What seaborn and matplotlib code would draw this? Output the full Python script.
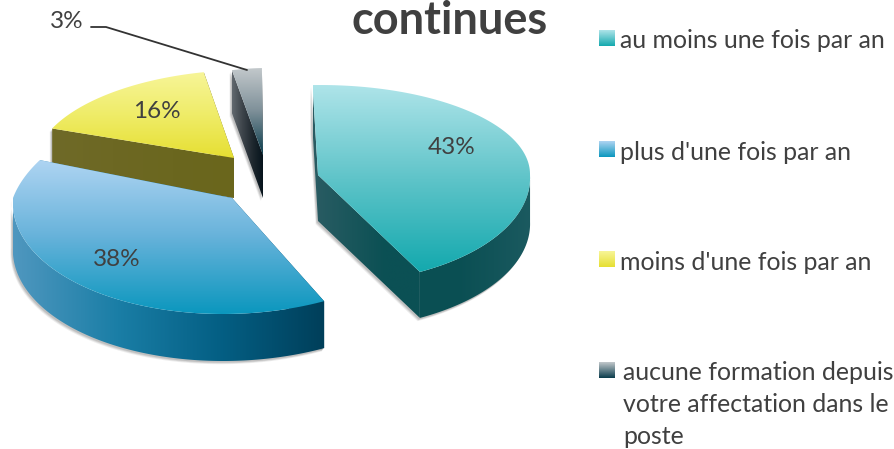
import numpy as np
import matplotlib
matplotlib.use("Agg")
import matplotlib.pyplot as plt
from matplotlib.patches import Polygon
import seaborn as sns

# Data
categories = ["au moins une fois par an", "plus d'une fois par an",
              "moins d'une fois par an",
              "aucune formation depuis\nvotre affectation dans le\nposte"]
values = [43, 38, 16, 3]
title = "continues"

# Slice geometry in pixels: apex x, apex y, rx, ry back, ry front, shear back, shear front, depth
slice_geom = [
    (318, 175, 212, 90, 109, 2, -5.6, 46),
    (232, 198, 219, 113, 116, 42, 9, 47),
    (234, 158, 198, 88, 88, 14, 14, 40),
    (263, 155, 160, 87, 87, 4.5, 4.5, 43),
]
label_pos = [(452, 148), (117, 260), (157, 112), (67, 21)]
legend_y = [38, 149, 259, 370]
legend_text_pos = [(620, 41), (620, 152), (620, 263), (623, 373)]

# Gradient stops: top surface (top to bottom), wall (left to right)
top_colors = [["#aee4e9", "#5fc4c9", "#14a9ae"],
              ["#aed4f2", "#66b2da", "#0b97be"],
              ["#f7f598", "#efec68", "#e6df32"],
              ["#c2c8cb", "#7d8f98", "#0a3c4c"]]
wall_colors = [["#2a5c63", "#0b5054", "#0a4f53", "#1b5a60"],
               ["#4f97bf", "#1a7ea6", "#045f84", "#003f5a"],
               ["#6f6a28", "#6c6720", "#6a661c"],
               ["#62696f", "#2a3238", "#04121a"]]
draw_order = [3, 2, 0, 1]
text_color = "#404040"

sns.set_theme(style="white")
plt.rcParams["font.family"] = ["Lato", "DejaVu Sans"]

fig = plt.figure(figsize=(8.95, 4.49), dpi=100)

# Slice angles come from a normal pie, drawn on a hidden helper axes
helper = fig.add_axes([0, 0, 0.1, 0.1])
wedges, _ = helper.pie(values, startangle=92, counterclock=False)
helper.set_visible(False)

ax = fig.add_axes([0, 0, 1, 1])
ax.set_xlim(0, 895)
ax.set_ylim(449, 0)
ax.axis("off")
ax.autoscale(False)


def project(geom, theta):
    ax_, ay, rx, ry_b, ry_f, sh_b, sh_f, _ = geom
    c, s = np.cos(theta), np.sin(theta)
    ry = np.where(s > 0, ry_b, ry_f)
    sh = np.where(s > 0, sh_b, sh_f)
    return np.column_stack([ax_ + rx * c + sh * s, ay - ry * s])


def fill_gradient(pts, colors, vertical, zorder):
    # imshow clipped to a polygon, that gives the glossy office look
    cmap = sns.blend_palette(colors, as_cmap=True)
    x0, y0 = pts.min(axis=0)
    x1, y1 = pts.max(axis=0)
    ramp = np.linspace(0, 1, 128)
    grad = ramp[:, None] if vertical else ramp[None, :]
    im = ax.imshow(grad, cmap=cmap, extent=(x0, x1, y1, y0), origin="upper",
                   aspect="auto", zorder=zorder, interpolation="bilinear")
    clip = Polygon(pts, closed=True, fc="none", ec="none", transform=ax.transData)
    ax.add_patch(clip)
    im.set_clip_path(clip)
    ax.set_xlim(0, 895)
    ax.set_ylim(449, 0)


z = 2
for i in draw_order:
    geom = slice_geom[i]
    depth = geom[7]
    t1, t2 = np.deg2rad(wedges[i].theta1), np.deg2rad(wedges[i].theta2)
    arc = project(geom, np.linspace(t1, t2, 120))
    apex = np.array([[geom[0], geom[1]]], dtype=float)
    down = np.array([0, depth])

    # outer wall only where the rim faces the viewer
    thetas = np.linspace(t1, t2, 240)
    front = thetas[np.sin(thetas) < 0]
    walls = []
    for edge in (arc[0], arc[-1]):
        walls.append(np.vstack([edge, apex[0], apex[0] + down, edge + down]))
    if len(front) > 1:
        rim = project(geom, front)
        walls.append(np.vstack([rim, (rim + down)[::-1]]))

    # soft shadow
    for off, alpha in ((4, 0.10), (3, 0.14), (2, 0.18)):
        for w in walls:
            ax.add_patch(Polygon(w + [-off * 0.6, off * 0.8], closed=True, fc="#555555",
                                 ec="none", alpha=alpha, zorder=z))
    z += 1

    all_wall = np.vstack(walls)
    x_min, x_max = all_wall[:, 0].min(), all_wall[:, 0].max()
    for w in walls:
        # keep the wall gradient continuous across its pieces
        pal = sns.blend_palette(wall_colors[i], as_cmap=True)
        lo = (w[:, 0].min() - x_min) / max(x_max - x_min, 1)
        hi = (w[:, 0].max() - x_min) / max(x_max - x_min, 1)
        stops = [matplotlib.colors.to_hex(pal(v)) for v in np.linspace(lo, hi, 4)]
        fill_gradient(w, stops, vertical=False, zorder=z)
        z += 1

    top = np.vstack([apex, arc])
    fill_gradient(top, top_colors[i], vertical=True, zorder=z)
    z += 1

# Percent labels
for v, (x, y) in zip(values, label_pos):
    ax.text(x, y, f"{v}%", ha="center", va="center", fontsize=17.5,
            color=text_color, zorder=100)

# Leader line for the small slice
ax.plot([91, 106, 247], [27, 27, 70], color="#333333", lw=1.3, zorder=100)

ax.text(450, 21, title, ha="center", va="center", fontsize=32.5,
        fontweight="bold", color=text_color, zorder=100)

# Legend
for i, name in enumerate(categories):
    y = legend_y[i]
    sq = np.array([[599, y - 8], [615, y - 8], [615, y + 8], [599, y + 8]], dtype=float)
    fill_gradient(sq, [top_colors[i][0], top_colors[i][-1]], vertical=True, zorder=100)
    tx, ty = legend_text_pos[i]
    for k, line in enumerate(name.split("\n")):
        ax.text(tx, ty + 32 * k, line, ha="left", va="center", fontsize=17.9,
                color=text_color, zorder=100)

fig.savefig("out.png", dpi=100)
